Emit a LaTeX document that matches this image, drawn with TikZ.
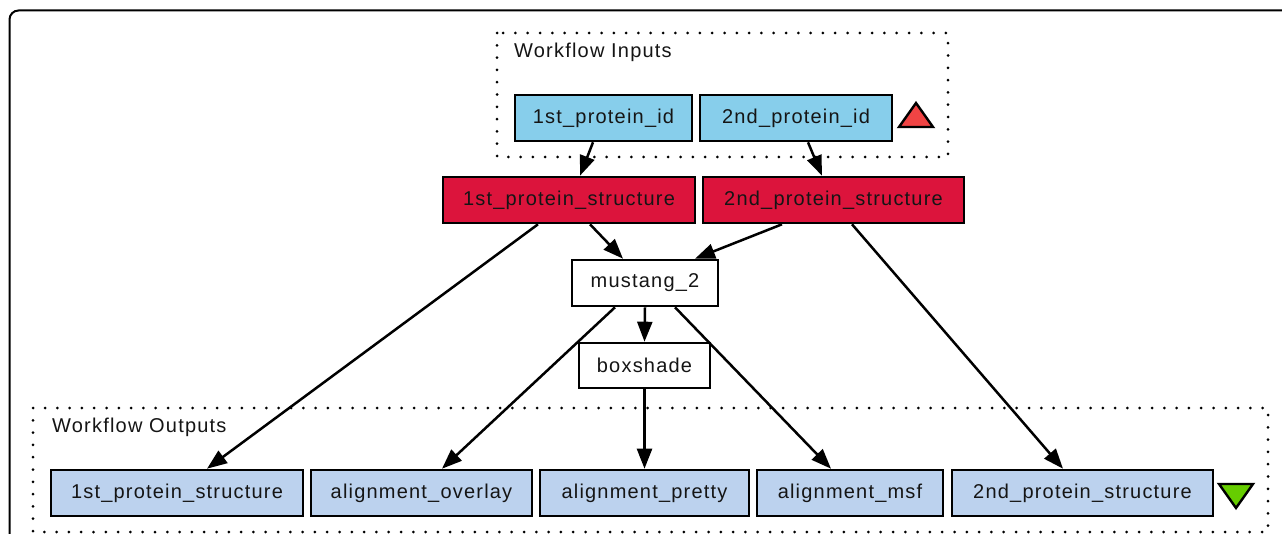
\documentclass[tikz,border=0pt]{standalone}
\usepackage{fontspec}
\setmainfont{Liberation Sans}[LetterSpace=6]
\usetikzlibrary{arrows.meta}
\definecolor{inblue}{HTML}{87CEEB}
\definecolor{procred}{HTML}{DC143C}
\definecolor{outblue}{HTML}{BCD2EE}
\definecolor{trired}{HTML}{F04444}
\definecolor{trigreen}{HTML}{66CD00}
\definecolor{txt}{HTML}{151515}
\begin{document}
\begin{tikzpicture}[x=1pt,y=-1pt,
  box/.style={draw=black, line width=2.6pt, minimum height=46pt, inner sep=0pt,
    font=\fontsize{20}{24}\selectfont, text=txt},
  inbox/.style={box, fill=inblue},
  procbox/.style={box, fill=procred},
  plainbox/.style={box, fill=white},
  outbox/.style={box, fill=outblue},
  edge/.style={line width=2.5pt, -{Triangle[length=20pt,width=15pt]}},
  dotbox/.style={line width=3pt, dash pattern=on 0pt off 12.3pt, line cap=round},
  lbl/.style={anchor=west, font=\fontsize{20}{24}\selectfont, text=txt, inner sep=0pt}]
\useasboundingbox (0,0) rectangle (1282,534);
\fill[white] (0,0) rectangle (1282,534);
% outer frame
\draw[line width=2pt, rounded corners=9pt] (9.5,540) -- (9.5,10.5) -- (1290,10.5);
% group boxes
\draw[dotbox] (497,33) rectangle (948,157);
\draw[dotbox] (33,408) rectangle (1268,532);
\node[lbl] (inlabel) at (514,52) {Workflow Inputs};
\node[lbl] (outlabel) at (52,427) {Workflow Outputs};
% inputs
\node[inbox, minimum width=177pt] (in1) at (603.5,118) {1st\_protein\_id};
\node[inbox, minimum width=192pt] (in2) at (796,118) {2nd\_protein\_id};
\draw[line width=2.4pt, fill=trired, line join=miter] (899,127) -- (916,103) -- (933,127) -- cycle;
% processors
\node[procbox, minimum width=252pt] (s1) at (569,200) {1st\_protein\_structure};
\node[procbox, minimum width=261pt] (s2) at (833.5,200) {2nd\_protein\_structure};
\node[plainbox, minimum width=146pt] (mus) at (645,283) {mustang\_2};
\node[plainbox, minimum width=131pt, minimum height=45pt] (box) at (644.5,365.5) {boxshade};
% outputs
\node[outbox, minimum width=252pt] (o1) at (177,493) {1st\_protein\_structure};
\node[outbox, minimum width=221pt] (o2) at (421.5,493) {alignment\_overlay};
\node[outbox, minimum width=209pt] (o3) at (644.5,493) {alignment\_pretty};
\node[outbox, minimum width=186pt] (o4) at (850,493) {alignment\_msf};
\node[outbox, minimum width=261pt] (o5) at (1082.5,493) {2nd\_protein\_structure};
\draw[line width=2.4pt, fill=trigreen, line join=miter] (1219,484) -- (1253,484) -- (1236,508) -- cycle;
% edges
\draw[edge] ([xshift=-10.5pt]in1.south) -- ([xshift=11pt]s1.north);
\draw[edge] ([xshift=12pt]in2.south) -- ([xshift=-11.5pt]s2.north);
\draw[edge] ([xshift=21pt]s1.south) -- ([xshift=-22pt]mus.north);
\draw[edge] ([xshift=-51.5pt]s2.south) -- ([xshift=50pt]mus.north);
\draw[edge] ([xshift=-31pt]s1.south) -- ([xshift=30pt]o1.north);
\draw[edge] ([xshift=18.5pt]s2.south) -- ([xshift=-19.5pt]o5.north);
\draw[edge] ([xshift=-30pt]mus.south) -- ([xshift=20.5pt]o2.north);
\draw[edge] (mus.south) -- (box.north);
\draw[edge] ([xshift=30pt]mus.south) -- ([xshift=-19pt]o4.north);
\draw[edge] (box.south) -- (o3.north);
\end{tikzpicture}
\end{document}
